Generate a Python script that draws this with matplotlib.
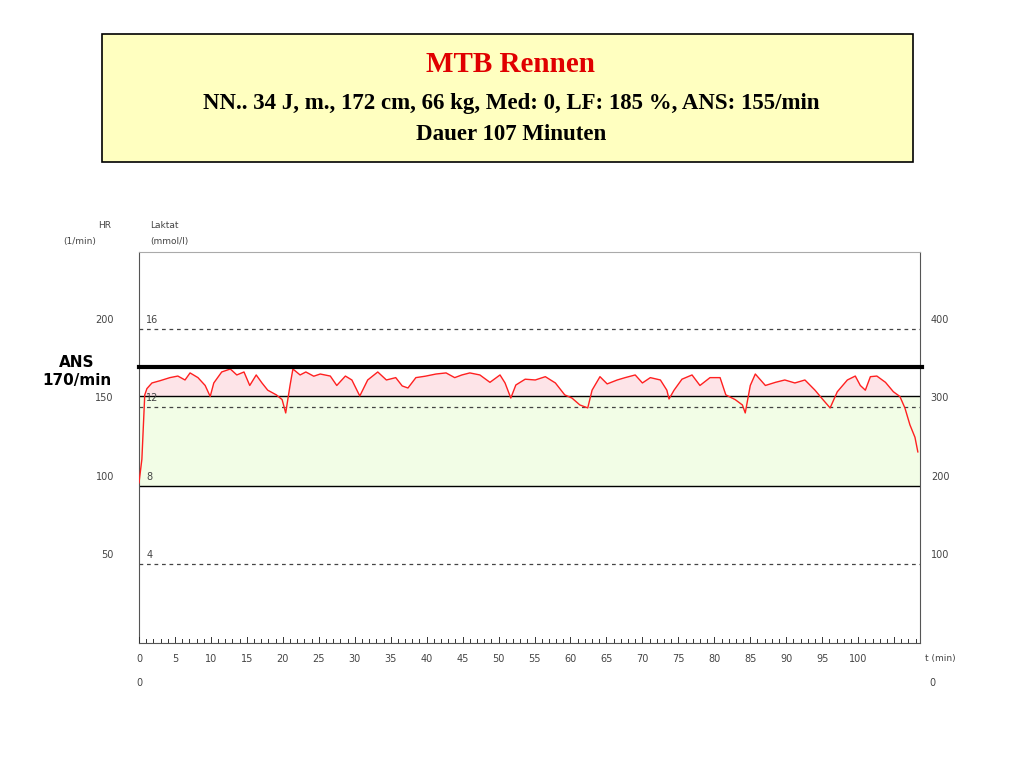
import numpy as np
import matplotlib.pyplot as plt
from matplotlib.patches import Rectangle

# heart rate curve (t in min, HR in 1/min)
t_min = [0, 0.4, 0.8, 1.1, 1.8, 2.9, 4.3, 5.4, 6.4, 7.1, 8.2, 9.2, 9.9, 10.4, 11.5, 12.7,
         13.6, 14.6, 15.4, 16.3, 17.1, 17.9, 19.1, 19.9, 20.4, 21.0, 21.4, 22.4, 23.2, 24.3,
         25.2, 26.6, 27.5, 28.7, 29.6, 30.7, 31.8, 33.2, 34.4, 35.7, 36.6, 37.4, 38.5, 39.8,
         41.3, 42.7, 43.9, 44.9, 46.0, 47.4, 48.8, 50.2, 50.9, 51.7, 52.4, 53.7, 55.1, 56.5,
         57.9, 59.2, 60.2, 61.3, 62.4, 63.0, 64.1, 65.1, 66.5, 67.6, 69.0, 70.0, 71.1, 72.5,
         73.4, 73.7, 74.4, 75.5, 76.9, 78.0, 79.4, 80.8, 81.6, 82.9, 83.9, 84.3, 85.0, 85.7,
         87.1, 88.5, 89.8, 91.2, 92.6, 94.0, 95.1, 96.1, 97.1, 98.5, 99.6, 100.3, 101.0,
         101.7, 102.6, 103.8, 104.9, 105.8, 106.5, 107.2, 107.9, 108.3]
hr = [102, 117, 158, 162, 165.6, 167, 169, 170, 167.5, 172, 169, 164, 157, 165.6, 172.6, 174.5,
      170.7, 172.6, 164, 170.7, 165.6, 161, 158, 155, 146.5, 164, 174.5, 170.7, 172.6, 169.9,
      171.3, 170, 164, 170, 167.5, 157.3, 167.5, 172.6, 167.5, 169, 163.7, 162.4, 169, 169.9,
      171.3, 172, 169, 170.7, 172, 170.7, 166, 170.7, 165.6, 156, 164.3, 168, 167.5, 169.6,
      165.6, 158, 156, 151.6, 149.7, 161, 169.6, 165, 167.5, 169, 170.7, 165.6, 169, 167.5,
      161, 155.4, 161, 168, 170.7, 164, 169, 169, 158, 155, 151.6, 146.5, 164, 171.3,
      164, 166, 167.5, 165.6, 167.5, 161, 155, 149.7, 160, 167.5, 170, 164, 161,
      169.6, 170, 166, 160, 157, 149.7, 138.9, 131, 121.7]

hr_ticks = [200, 150, 100, 50]
lactate_labels = ['16', '12', '8', '4']
right_labels = ['400', '300', '200', '100']
x_labels = list(range(0, 101, 5))

ans_line = 176
lower_line = 157
green_bottom = 100
t_end = 108.6

fig = plt.figure(figsize=(10.24, 7.68), dpi=100)

# title box
fig.patches.append(Rectangle((102 / 1024, 1 - 162 / 768), 811 / 1024, 128 / 768,
                             transform=fig.transFigure, facecolor='#ffffc0',
                             edgecolor='black', lw=1.2))
serif = ['Liberation Serif', 'DejaVu Serif']
fig.text(0.499, 1 - 64 / 768, 'MTB Rennen', color='#e00000', fontsize=21,
         fontweight='bold', family=serif, ha='center', va='center')
fig.text(0.499, 1 - 103 / 768, 'NN.. 34 J, m., 172 cm, 66 kg, Med: 0, LF: 185 %, ANS: 155/min',
         fontsize=16.5, fontweight='bold', family=serif, ha='center', va='center')
fig.text(0.499, 1 - 135 / 768, 'Dauer 107 Minuten', fontsize=16.5, fontweight='bold',
         family=serif, ha='center', va='center')

ax = fig.add_axes([139 / 1024, 125 / 768, 781 / 1024, 391 / 768])
ax.set_xlim(0, t_end)
ax.set_ylim(0, 249)

t = np.array(t_min)
h = np.array(hr)
ax.axhspan(green_bottom, lower_line, facecolor='#f2fde6', zorder=0)
ax.fill_between(t, lower_line, h, where=h > lower_line, interpolate=True,
                facecolor='#fde4e8', zorder=1)
ax.plot(t, h, color='#ff2020', lw=1.0, zorder=4)

for v in [200, 150, 50]:
    ax.axhline(v, color='#444444', lw=0.9, ls=(0, (3, 3)), zorder=2)
ax.axhline(green_bottom, color='black', lw=1.0, zorder=2)
ax.axhline(lower_line, color='black', lw=1.0, zorder=2)
ax.plot([0, t_end + 0.3], [ans_line, ans_line], color='black', lw=3, zorder=5,
        clip_on=False)

# minute ticks inside the bottom
for m in range(0, int(t_end) + 1):
    ln = 6 if m % 5 == 0 else 4
    ax.plot([m, m], [0, ln * 0.637], color='#333333', lw=0.7, zorder=3)

ax.set_xticks([])
ax.set_yticks([])
for s in ax.spines.values():
    s.set_color('#555555')
ax.spines['top'].set_color('#aaaaaa')

grey = '#444444'
for v, lac, r in zip(hr_ticks, lactate_labels, right_labels):
    ax.text(-3.5, v + 6, str(v), fontsize=7, color=grey, ha='right', va='center')
    ax.text(1.0, v + 6, lac, fontsize=7, color=grey, ha='left', va='center')
    ax.text(t_end + 1.5, v + 6, r, fontsize=7, color=grey, ha='left', va='center')

for x in x_labels:
    ax.text(x, -7, str(x), fontsize=7, color=grey, ha='center', va='top')
ax.text(0, -22, '0', fontsize=7, color=grey, ha='center', va='top')
ax.text(t_end + 0.7, -7, 't (min)', fontsize=6.5, color=grey, ha='left', va='top')
ax.text(t_end + 1.3, -22, '0', fontsize=7, color=grey, ha='left', va='top')

ax.text(-4.8, 266, 'HR', fontsize=6.5, color=grey, ha='center', va='center')
ax.text(-8.3, 256, '(1/min)', fontsize=6.5, color=grey, ha='center', va='center')
ax.text(1.6, 266, 'Laktat', fontsize=6.5, color=grey, ha='left', va='center')
ax.text(1.6, 256, '(mmol/l)', fontsize=6.5, color=grey, ha='left', va='center')

ax.text(-8.6, 173, 'ANS\n170/min', fontsize=11, fontweight='bold', ha='center',
        va='center', linespacing=1.3, zorder=6)

fig.savefig('out.png', dpi=100)
